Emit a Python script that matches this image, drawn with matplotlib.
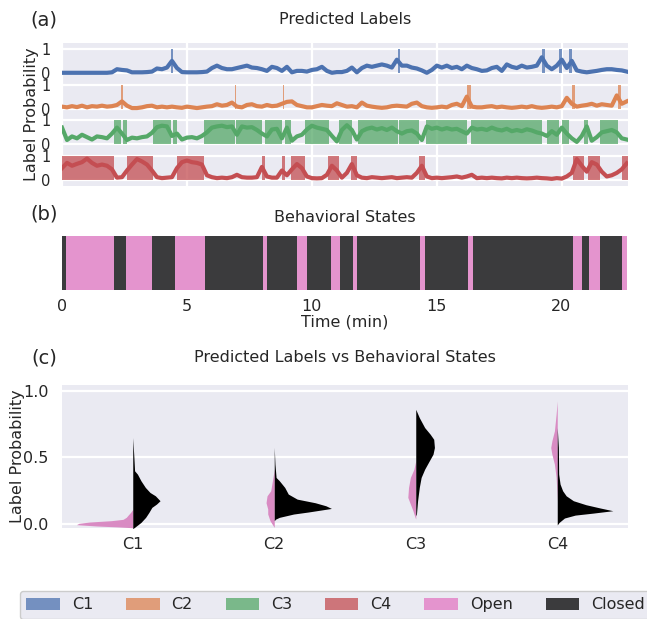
import numpy as np
import matplotlib
matplotlib.use("Agg")
import matplotlib.pyplot as plt
from matplotlib.patches import Patch

# ---------------- data ----------------
dt = 0.2  # minutes between samples
t_end = 22.65

c1_prob = [
    0, 0, 0, 0, 0, 0, 0, 0, 0, 0,
    0.02, 0.15, 0.12, 0.10, 0.02, 0.02, 0.02, 0.03, 0.05, 0.18,
    0.15, 0.22, 0.50, 0.20, 0.03, 0.02, 0.02, 0.02, 0.03, 0.05,
    0.20, 0.30, 0.20, 0.15, 0.15, 0.20, 0.25, 0.30, 0.22, 0.20,
    0.15, 0.08, 0.25, 0.20, 0.08, 0.25, 0.02, 0.08, 0.08, 0.05,
    0.12, 0.15, 0.25, 0.08, 0.00, 0.03, 0.03, 0.08, 0.22, 0.02,
    0.20, 0.30, 0.25, 0.30, 0.35, 0.30, 0.22, 0.55, 0.30, 0.30,
    0.22, 0.18, 0.10, 0.00, 0.12, 0.30, 0.22, 0.30, 0.20, 0.25,
    0.15, 0.30, 0.20, 0.15, 0.08, 0.10, 0.20, 0.25, 0.08, 0.35,
    0.25, 0.20, 0.30, 0.22, 0.25, 0.30, 0.65, 0.30, 0.15, 0.30,
    0.55, 0.20, 0.50, 0.10, 0.05, 0.02, 0.05, 0.08, 0.12, 0.15,
    0.15, 0.12, 0.10, 0.05,
]
c2_prob = [
    0.08, 0.05, 0.10, 0.06, 0.12, 0.05, 0.10, 0.08, 0.12, 0.08,
    0.10, 0.15, 0.30, 0.12, 0.02, 0.02, 0.05, 0.10, 0.12, 0.05,
    0.08, 0.05, 0.08, 0.05, 0.03, 0.08, 0.05, 0.02, 0.05, 0.08,
    0.10, 0.18, 0.12, 0.15, 0.25, 0.08, 0.05, 0.15, 0.18, 0.10,
    0.08, 0.15, 0.10, 0.12, 0.20, 0.28, 0.30, 0.15, 0.10, 0.05,
    0.05, 0.10, 0.15, 0.12, 0.10, 0.22, 0.15, 0.08, 0.10, 0.05,
    0.25, 0.12, 0.08, 0.05, 0.03, 0.05, 0.10, 0.12, 0.10, 0.08,
    0.20, 0.25, 0.10, 0.05, 0.03, 0.05, 0.08, 0.05, 0.15, 0.20,
    0.10, 0.50, 0.08, 0.05, 0.05, 0.08, 0.10, 0.05, 0.08, 0.05,
    0.03, 0.05, 0.08, 0.05, 0.10, 0.05, 0.03, 0.05, 0.08, 0.05,
    0.10, 0.45, 0.20, 0.08, 0.12, 0.15, 0.20, 0.12, 0.18, 0.15,
    0.12, 0.55, 0.20, 0.30,
]
c3_prob = [
    0.70, 0.18, 0.33, 0.25, 0.40, 0.30, 0.20, 0.33, 0.30, 0.25,
    0.45, 0.70, 0.45, 0.18, 0.28, 0.25, 0.30, 0.33, 0.48, 0.72,
    0.78, 0.75, 0.35, 0.45, 0.20, 0.28, 0.30, 0.25, 0.35, 0.50,
    0.70, 0.75, 0.78, 0.72, 0.75, 0.40, 0.75, 0.70, 0.72, 0.60,
    0.45, 0.33, 0.62, 0.65, 0.25, 0.70, 0.15, 0.33, 0.40, 0.62,
    0.78, 0.70, 0.65, 0.60, 0.35, 0.12, 0.60, 0.80, 0.60, 0.20,
    0.55, 0.65, 0.70, 0.62, 0.68, 0.60, 0.70, 0.55, 0.45, 0.55,
    0.58, 0.45, 0.18, 0.75, 0.65, 0.70, 0.62, 0.68, 0.62, 0.65,
    0.55, 0.45, 0.70, 0.62, 0.65, 0.60, 0.70, 0.62, 0.58, 0.65,
    0.55, 0.60, 0.55, 0.63, 0.58, 0.50, 0.45, 0.35, 0.55, 0.40,
    0.70, 0.45, 0.25, 0.10, 0.35, 0.75, 0.15, 0.30, 0.50, 0.55,
    0.60, 0.50, 0.25, 0.20,
]
c4_prob = [
    0.50, 0.72, 0.60, 0.68, 0.75, 0.90, 0.72, 0.60, 0.65, 0.60,
    0.45, 0.10, 0.12, 0.40, 0.65, 0.88, 0.78, 0.65, 0.40, 0.12,
    0.08, 0.10, 0.12, 0.50, 0.75, 0.82, 0.75, 0.72, 0.65, 0.20,
    0.12, 0.08, 0.10, 0.08, 0.12, 0.22, 0.12, 0.10, 0.10, 0.12,
    0.55, 0.15, 0.10, 0.10, 0.40, 0.20, 0.45, 0.67, 0.50, 0.15,
    0.08, 0.07, 0.08, 0.22, 0.60, 0.40, 0.10, 0.30, 0.67, 0.20,
    0.10, 0.08, 0.12, 0.10, 0.08, 0.10, 0.12, 0.08, 0.10, 0.12,
    0.10, 0.30, 0.60, 0.15, 0.08, 0.10, 0.08, 0.10, 0.12, 0.15,
    0.10, 0.15, 0.22, 0.08, 0.10, 0.08, 0.10, 0.08, 0.07, 0.10,
    0.08, 0.10, 0.08, 0.07, 0.08, 0.10, 0.08, 0.07, 0.05, 0.08,
    0.06, 0.15, 0.30, 0.88, 0.60, 0.35, 0.75, 0.65, 0.35, 0.15,
    0.20, 0.30, 0.45, 0.70,
]

# predicted-label segments (start, end) in minutes
c1_segments = [(4.36, 4.46), (13.43, 13.52), (19.20, 19.33), (19.89, 19.99), (20.29, 20.39)]
c2_segments = [(2.35, 2.43), (6.91, 6.95), (8.85, 8.89), (16.22, 16.38), (20.39, 20.52), (22.26, 22.36)]
c3_segments = [(2.10, 2.35), (2.43, 2.59), (3.63, 4.36), (4.46, 4.62), (5.69, 6.91),
               (6.95, 8.00), (8.14, 8.80), (8.94, 9.18), (9.74, 10.67), (11.07, 11.61),
               (11.84, 13.44), (13.50, 14.28), (14.55, 16.22), (16.38, 19.19),
               (19.40, 19.89), (19.99, 20.29), (20.87, 21.03), (21.54, 22.26)]
c4_segments = [(0.00, 2.10), (2.59, 3.63), (4.62, 5.69), (8.00, 8.14), (8.80, 8.94),
               (9.18, 9.74), (10.63, 11.07), (11.57, 11.79), (14.30, 14.51),
               (20.45, 20.87), (21.03, 21.54), (22.39, 22.65)]

# behavioral state segments
state_edges = [0.00, 0.17, 2.08, 2.58, 3.61, 4.55, 5.75, 8.05, 8.20, 9.44, 9.82,
               10.77, 11.15, 11.68, 11.83, 14.35, 14.57, 16.28, 16.46, 20.50,
               20.86, 21.12, 21.58, 22.44, 22.65]
state_labels = ["Closed", "Open", "Closed", "Open", "Closed", "Open", "Closed",
                "Open", "Closed", "Open", "Closed", "Open", "Closed", "Open",
                "Closed", "Open", "Closed", "Open", "Closed", "Open", "Closed",
                "Open", "Closed", "Open"]

# label-probability distributions per state (value, half-width in category units)
categories = ["C1", "C2", "C3", "C4"]
open_y = [
    [0.11, 0.09, 0.07, 0.05, 0.035, 0.025, 0.015, 0.005, -0.005, -0.015, -0.022, -0.028],
    [0.41, 0.325, 0.25, 0.212, 0.16, 0.112, 0.075, 0.025, -0.012, -0.025],
    [0.475, 0.412, 0.35, 0.275, 0.20, 0.15, 0.10, 0.05, 0.037],
    [0.925, 0.825, 0.70, 0.625, 0.575, 0.525, 0.45, 0.35, 0.25, 0.175],
]
open_w = [
    [0, 0.013, 0.030, 0.046, 0.069, 0.152, 0.305, 0.381, 0.398, 0.254, 0.102, 0],
    [0, 0.013, 0.025, 0.051, 0.058, 0.046, 0.046, 0.030, 0.008, 0],
    [0, 0.013, 0.038, 0.051, 0.056, 0.038, 0.020, 0.005, 0],
    [0, 0.008, 0.020, 0.038, 0.046, 0.038, 0.020, 0.008, 0.003, 0],
]
closed_y = [
    [0.65, 0.50, 0.40, 0.375, 0.325, 0.275, 0.237, 0.212, 0.175, 0.15, 0.125, 0.087, 0.05, 0.012, -0.025, -0.035],
    [0.577, 0.45, 0.35, 0.325, 0.275, 0.225, 0.187, 0.16, 0.137, 0.117, 0.09, 0.075, 0.05, 0.037, 0.025],
    [0.862, 0.80, 0.725, 0.675, 0.637, 0.575, 0.525, 0.462, 0.412, 0.35, 0.275, 0.175, 0.075, 0.062],
    [0.725, 0.575, 0.375, 0.30, 0.25, 0.212, 0.175, 0.145, 0.12, 0.10, 0.082, 0.067, 0.045, 0.012, -0.007],
]
closed_w = [
    [0, 0.008, 0.013, 0.033, 0.058, 0.089, 0.122, 0.160, 0.193, 0.168, 0.135, 0.114, 0.091, 0.058, 0.013, 0],
    [0, 0.005, 0.013, 0.036, 0.074, 0.099, 0.162, 0.289, 0.365, 0.404, 0.239, 0.137, 0.036, 0.010, 0],
    [0, 0.025, 0.063, 0.102, 0.127, 0.132, 0.122, 0.089, 0.063, 0.038, 0.025, 0.013, 0.005, 0],
    [0, 0.008, 0.010, 0.020, 0.038, 0.063, 0.114, 0.203, 0.305, 0.393, 0.254, 0.127, 0.051, 0.013, 0],
]

# ---------------- style ----------------
FS = 11.5
plt.rcParams.update({
    "font.family": ["DejaVu Sans"],
    "font.size": FS,
    "axes.facecolor": "#EAEAF2",
    "axes.edgecolor": "white",
    "axes.grid": True,
    "axes.axisbelow": True,
    "grid.color": "white",
    "grid.linewidth": 1.6,
    "axes.spines.left": False, "axes.spines.right": False,
    "axes.spines.top": False, "axes.spines.bottom": False,
    "xtick.bottom": False, "ytick.left": False,
    "text.color": "#262626", "xtick.color": "#262626", "ytick.color": "#262626",
    "axes.labelcolor": "#262626",
    "xtick.labelsize": FS, "ytick.labelsize": FS,
})

series_colors = ["#4C72B0", "#DD8452", "#55A868", "#C44E52"]
open_color = "#e377c2"
closed_color = "#000000"
violin_open = "#D98BC3"

W, H = 647, 619
fig = plt.figure(figsize=(W / 100, H / 100), dpi=100)


def frac_rect(left, top, right, bottom):
    return [left / W, 1 - bottom / H, (right - left) / W, (bottom - top) / H]


# ---------------- (a) predicted labels ----------------
probs = [c1_prob, c2_prob, c3_prob, c4_prob]
segments = [c1_segments, c2_segments, c3_segments, c4_segments]
row_h = 35.75
for i, (p, segs, col) in enumerate(zip(probs, segments, series_colors)):
    top = 43 + i * row_h
    ax = fig.add_axes(frac_rect(62, top, 628, top + row_h))
    t = np.arange(len(p)) * dt
    starts = [s for s, e in segs]
    widths = [e - s for s, e in segs]
    ax.bar(starts, [1] * len(segs), width=widths, bottom=0, align="edge",
           color=col, alpha=0.75, linewidth=0)
    ax.plot(t, p, color=col, lw=3.0, solid_joinstyle="round")
    ax.set_xlim(0, t_end)
    ax.set_ylim(-0.25, 1.25)
    ax.set_yticks([0, 1])
    ax.set_yticklabels(["0", "1"], fontsize=10.5)
    ax.set_xticks([0, 5, 10, 15, 20])
    ax.set_xticklabels([])
    ax.tick_params(axis="y", pad=5)

fig.text(32 / W, 1 - 114.5 / H, "Label Probability", rotation=90,
         ha="center", va="center", fontsize=FS)
fig.text(345 / W, 1 - 19 / H, "Predicted Labels", ha="center", va="center", fontsize=FS)
fig.text(44 / W, 1 - 20 / H, "(a)", ha="center", va="center", fontsize=14)

# ---------------- (b) behavioral states ----------------
axb = fig.add_axes(frac_rect(62, 235.7, 627, 290))
for j, lab in enumerate(state_labels):
    s, e = state_edges[j], state_edges[j + 1]
    axb.barh(0, e - s, left=s, height=1.0,
             color=open_color if lab == "Open" else closed_color,
             alpha=0.75, linewidth=0)
axb.set_xlim(0, t_end)
axb.set_ylim(-0.5, 0.5)
axb.set_yticks([])
axb.set_xticks([0, 5, 10, 15, 20])
axb.tick_params(axis="x", pad=3)
axb.grid(False)
axb.set_xlabel("Time (min)", labelpad=0)
fig.text(345 / W, 1 - 217 / H, "Behavioral States", ha="center", va="center", fontsize=FS)
fig.text(44 / W, 1 - 214 / H, "(b)", ha="center", va="center", fontsize=14)

# ---------------- (c) split violins ----------------
axc = fig.add_axes(frac_rect(62, 385, 628, 528))
for k, name in enumerate(categories):
    oy = np.array(open_y[k]); ow = np.array(open_w[k])
    cy = np.array(closed_y[k]); cw = np.array(closed_w[k])
    axc.fill_betweenx(oy, k - ow, k, color=violin_open, linewidth=0)
    axc.fill_betweenx(cy, k, k + cw, color=closed_color, linewidth=0)
axc.set_xlim(-0.5, 3.5)
axc.set_ylim(-0.03, 1.045)
axc.set_xticks(range(len(categories)))
axc.set_xticklabels(categories)
axc.set_yticks([0, 0.5, 1.0])
axc.set_yticklabels(["0.0", "0.5", "1.0"])
axc.xaxis.grid(False)
axc.tick_params(axis="y", pad=6)
axc.tick_params(axis="x", pad=3)
fig.text(18 / W, 1 - 456 / H, "Label Probability", rotation=90,
         ha="center", va="center", fontsize=FS)
fig.text(345 / W, 1 - 358 / H, "Predicted Labels vs Behavioral States",
         ha="center", va="center", fontsize=FS)
fig.text(44 / W, 1 - 358 / H, "(c)", ha="center", va="center", fontsize=14)

# ---------------- legend ----------------
handles = [Patch(facecolor=c, alpha=0.75, linewidth=0) for c in series_colors]
handles += [Patch(facecolor=open_color, alpha=0.75, linewidth=0),
            Patch(facecolor=closed_color, alpha=0.75, linewidth=0)]
labels = categories + ["Open", "Closed"]
leg = fig.legend(handles, labels, loc="upper left", bbox_to_anchor=(20 / W, 1 - 591 / H),
                 ncol=6, fontsize=FS, handlelength=2.1, handleheight=0.75,
                 handletextpad=0.75, columnspacing=2.05, borderaxespad=0,
                 frameon=True, facecolor="#EAEAF2", edgecolor="#cccccc", framealpha=1)

fig.savefig("out.png", dpi=100)
